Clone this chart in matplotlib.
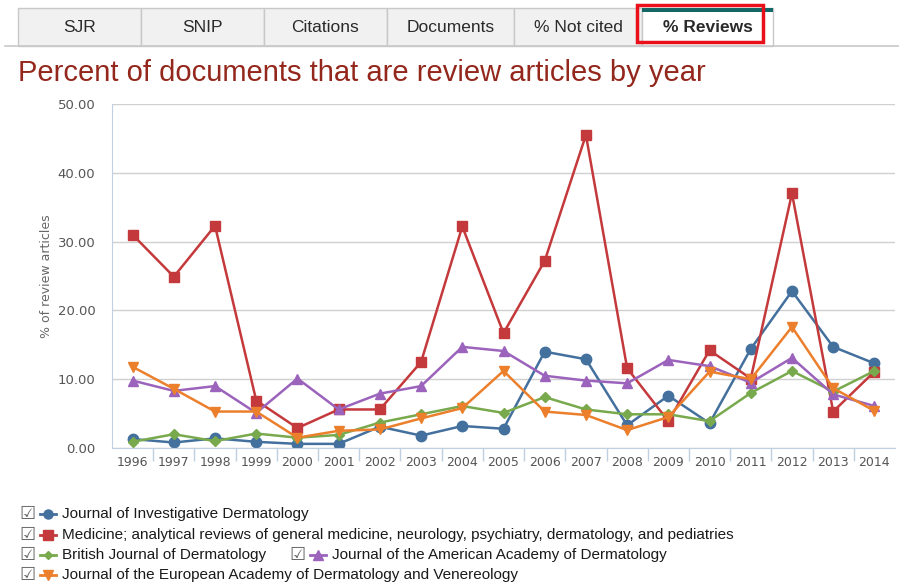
import matplotlib.pyplot as plt
from matplotlib.patches import Rectangle
from matplotlib.lines import Line2D

years = list(range(1996, 2015))

investigative = [1.3, 0.8, 1.4, 0.9, 0.6, 0.6, 3.1, 1.8, 3.2, 2.8, 14.0, 12.9,
                 3.3, 7.6, 3.6, 14.4, 22.8, 14.7, 12.3]
medicine = [31.0, 24.9, 32.3, 6.9, 2.9, 5.6, 5.6, 12.5, 32.2, 16.7, 27.2, 45.5,
            11.6, 3.9, 14.2, 10.1, 37.0, 5.3, 11.1]
british = [0.9, 2.0, 1.0, 2.1, 1.5, 1.9, 3.7, 4.9, 6.1, 5.1, 7.4, 5.6,
           4.9, 4.9, 3.9, 8.0, 11.2, 8.2, 11.2]
american = [9.8, 8.3, 9.0, 5.1, 10.1, 5.6, 7.9, 9.0, 14.7, 14.1, 10.5, 9.8,
            9.4, 12.8, 11.9, 9.5, 13.1, 7.8, 6.1]
european = [11.8, 8.6, 5.3, 5.3, 1.5, 2.5, 2.7, 4.3, 5.8, 11.2, 5.3, 4.8,
            2.6, 4.5, 11.1, 10.0, 17.6, 8.7, 5.4]

series_names = [
    "Journal of Investigative Dermatology",
    "Medicine; analytical reviews of general medicine, neurology, psychiatry, dermatology, and pediatries",
    "British Journal of Dermatology",
    "Journal of the American Academy of Dermatology",
    "Journal of the European Academy of Dermatology and Venereology",
]
tab_labels = ["SJR", "SNIP", "Citations", "Documents", "% Not cited", "% Reviews"]

colors = ["#44709d", "#c4393b", "#78a94c", "#9b63bb", "#ec7f2c"]
markers = ["o", "s", "D", "^", "v"]
msizes = [7.5, 7.5, 5.5, 7.5, 7.5]

W, H = 899, 584
fig = plt.figure(figsize=(W / 100, H / 100), dpi=100)


def fx(px):
    return px / W


def fy(py):
    return 1 - py / H


# tabs
tab_edges = [18, 141, 264, 387, 514, 642, 773]
fig.add_artist(Line2D([fx(5), fx(899)], [fy(46), fy(46)], color="#c8c8c8", lw=1.2))
for i, lab in enumerate(tab_labels):
    x0, x1 = tab_edges[i], tab_edges[i + 1]
    active = lab == "% Reviews"
    fig.add_artist(Rectangle((fx(x0), fy(46)), fx(x1 - x0), 38 / H,
                             transform=fig.transFigure,
                             facecolor="white" if active else "#f1f1f1",
                             edgecolor="#c8c8c8", lw=1))
    if active:
        fig.add_artist(Rectangle((fx(x0), fy(12)), fx(x1 - x0), 4 / H,
                                 transform=fig.transFigure,
                                 facecolor="#136767", edgecolor="none"))
    fig.text(fx((x0 + x1) / 2), fy(27), lab, ha="center", va="center",
             fontsize=12.5, family="Liberation Sans", color="#2a2a2a",
             fontweight="bold" if active else "normal")
fig.add_artist(Rectangle((fx(637), fy(42)), fx(126), 37 / H,
                         transform=fig.transFigure, facecolor="none",
                         edgecolor="#e8101a", lw=2.5))

fig.text(fx(18), fy(73), "Percent of documents that are review articles by year",
         ha="left", va="center", fontsize=21, family="Liberation Sans",
         color="#94271c")

# chart
ax = fig.add_axes([fx(112), fy(448), fx(895 - 112), (448 - 104) / H])
data = [investigative, medicine, british, american, european]
for vals, c, m, ms, name in zip(data, colors, markers, msizes, series_names):
    ax.plot(years, vals, color=c, marker=m, markersize=ms, lw=1.8, label=name,
            markeredgecolor=c)

ax.set_xlim(1995.5, 2014.5)
ax.set_ylim(0, 50)
ax.set_yticks([0, 10, 20, 30, 40, 50])
ax.set_yticklabels(["%.2f" % v for v in [0, 10, 20, 30, 40, 50]])
ax.set_xticks(years)
ax.set_xticks([y + 0.5 for y in years[:-1]], minor=True)
ax.tick_params(axis="x", which="major", length=0, pad=6, labelsize=9,
               labelcolor="#555555")
ax.tick_params(axis="x", which="minor", length=9, color="#c0d0e0", width=1)
ax.tick_params(axis="y", length=0, pad=12, labelsize=9.5, labelcolor="#555555")
for lab in ax.get_xticklabels() + ax.get_yticklabels():
    lab.set_family("DejaVu Sans")
ax.grid(axis="y", color="#d0d0d0", lw=1)
ax.set_axisbelow(True)
for s in ["top", "right"]:
    ax.spines[s].set_visible(False)
ax.spines["left"].set_color("#c0d0e0")
ax.spines["bottom"].set_color("#c0d0e0")
ax.set_ylabel("% of review articles", fontsize=9, color="#666666", labelpad=3)

# legend
rows = [(27, 514, 0), (27, 535, 1), (27, 555, 2), (297, 555, 3), (27, 575, 4)]
for x, y, i in rows:
    fig.text(fx(x), fy(y), "\u2611", ha="center", va="center", fontsize=13,
             color="#666666", family="DejaVu Sans")
    fig.add_artist(Line2D([fx(x + 13), fx(x + 21), fx(x + 29)], [fy(y)] * 3,
                          color=colors[i], lw=2, marker=markers[i],
                          markersize=msizes[i] - 1, markevery=[1],
                          markeredgecolor=colors[i]))
    fig.text(fx(x + 35), fy(y), series_names[i], ha="left", va="center",
             fontsize=11, color="#1a1a1a", family="Liberation Sans")

fig.savefig("out.png", dpi=100)
